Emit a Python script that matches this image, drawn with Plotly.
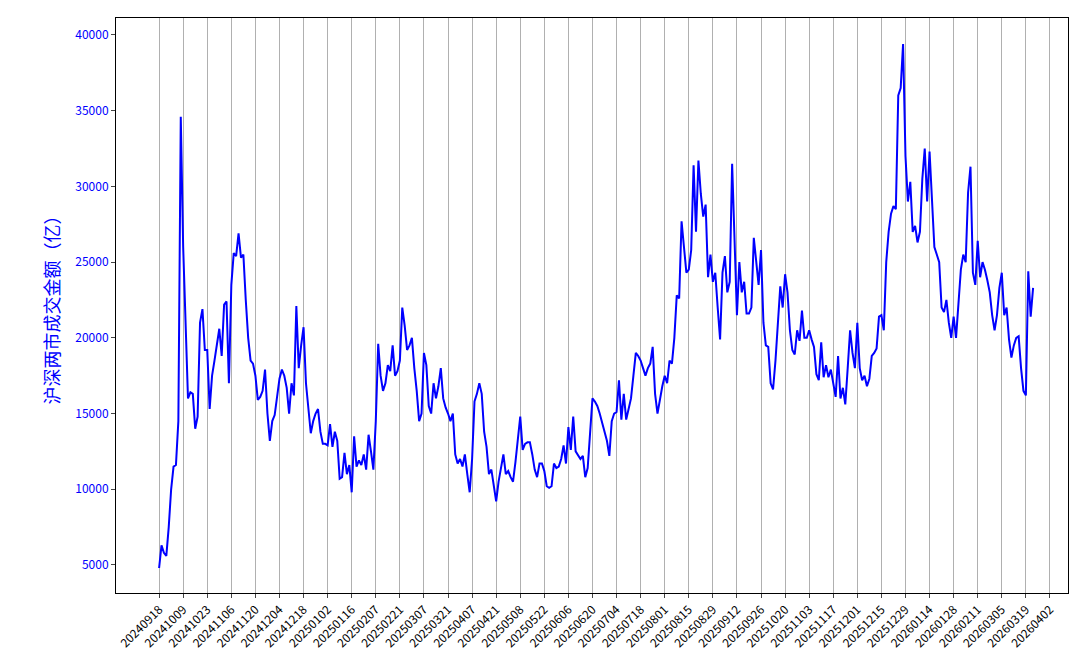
import plotly.graph_objects as go

tick_labels = ["20240918","20241009","20241023","20241106","20241120","20241204","20241218","20250102","20250116","20250207","20250221","20250307","20250321","20250407","20250421","20250508","20250522","20250606","20250620","20250704","20250718","20250801","20250815","20250829","20250912","20250926","20251020","20251103","20251117","20251201","20251215","20251229","20260114","20260128","20260211","20260305","20260319","20260402"]

turnover = [
4800,6300,5800,5600,7500,10000,11500,11600,14500,34600,
26000,21000,16000,16400,16300,14000,14800,21000,21900,19200,
19200,15300,17500,18500,19500,20600,18800,22200,22400,17000,
23500,25600,25400,26900,25300,25500,22500,20000,18500,18300,
17500,15900,16100,16500,17900,15000,13200,14500,14900,16000,
17300,17900,17500,16700,15000,17000,16200,22100,18000,19500,
20700,17000,15500,13700,14500,15000,15300,13800,13000,13000,
12900,14300,12800,13800,13200,10700,10800,12400,11000,11600,
9800,13500,11500,11900,11600,12300,11300,13600,12500,11300,
14500,19600,17500,16500,17000,18200,17800,19500,17500,17800,
18500,22000,20800,19200,19500,20000,18000,16500,14500,15000,
19000,18200,15500,15000,17000,16000,16800,18000,16000,15400,
15000,14500,15000,12300,11700,12000,11500,12300,11000,9800,
12000,15800,16300,17000,16300,13800,12800,11000,11300,10200,
9200,10500,11400,12300,11000,11200,10800,10500,11800,13400,
14800,12600,13000,13100,13100,12300,11300,10800,11700,11700,
11200,10200,10100,10200,11700,11400,11500,12000,12900,11700,
14100,12600,14800,12500,12200,12000,12200,10800,11400,14100,
16000,15800,15500,15000,14400,13700,13200,12200,14500,15000,
15100,17200,14600,16300,14600,15300,16000,17500,19000,18800,
18500,18000,17500,18000,18300,19400,16300,15000,16000,16800,
17500,17000,18500,18300,20000,22800,22600,27700,26000,24300,
24500,25800,31400,27000,31700,29500,28000,28800,24000,25500,
23700,24300,22000,19900,24300,25400,23000,23700,31500,26000,
21500,25000,23000,23700,21600,21600,22000,26600,25000,23500,
25800,21000,19500,19400,17000,16600,18500,21300,23400,22000,
24200,23000,20500,19200,18900,20500,19800,21800,20000,20000,
20500,19900,19400,17600,17200,19700,17400,18200,17400,17900,
17000,16100,18800,16000,16700,15600,18000,20500,19000,18000,
21000,18000,17200,17500,16800,17300,18800,19000,19300,21400,
21500,20500,25000,27000,28200,28700,28500,36000,36500,39400,
32000,29000,30300,27000,27400,26300,27000,30500,32500,29000,
32300,29000,26000,25500,25000,22000,21700,22500,21000,20000,
21400,20000,22000,24500,25500,25000,29600,31300,24300,23500,
26400,24000,25000,24500,23800,23000,21500,20500,21500,23300,
24300,21500,22000,19900,18700,19500,20000,20100,18000,16500,
16200,24400,21400,23300,
]

x = list(range(len(turnover)))
tickvals = [i * 10 for i in range(len(tick_labels))]

fig = go.Figure(go.Scatter(x=x, y=turnover, mode="lines",
                           line=dict(color="#0000ff", width=2), hoverinfo="skip"))
fig.update_layout(
    width=1080, height=660, paper_bgcolor="white", plot_bgcolor="white",
    margin=dict(l=108, r=20, t=10, b=75), showlegend=False,
    font=dict(family="Noto Sans CJK SC, DejaVu Sans", size=12, color="black"),
)
fig.update_xaxes(range=[-17.9, 377.5], tickvals=tickvals, ticktext=tick_labels,
                 tickangle=-45, showgrid=True, gridcolor="#b0b0b0", gridwidth=1,
                 showline=True, linecolor="black", mirror=True, ticks="outside",
                 ticklen=4, zeroline=False, tickfont=dict(size=12), automargin=False)
fig.update_yaxes(range=[3150, 41120], tickvals=[5000,10000,15000,20000,25000,30000,35000,40000],
                 tickformat="d",
                 showgrid=False, showline=True, linecolor="black", mirror=True,
                 ticks="outside", ticklen=4, zeroline=False, automargin=False,
                 tickfont=dict(color="#0000ff", size=12),
                 title=dict(text="沪深两市成交金额（亿）", font=dict(color="#0000ff", size=18), standoff=10))
fig.write_html("out.html")
